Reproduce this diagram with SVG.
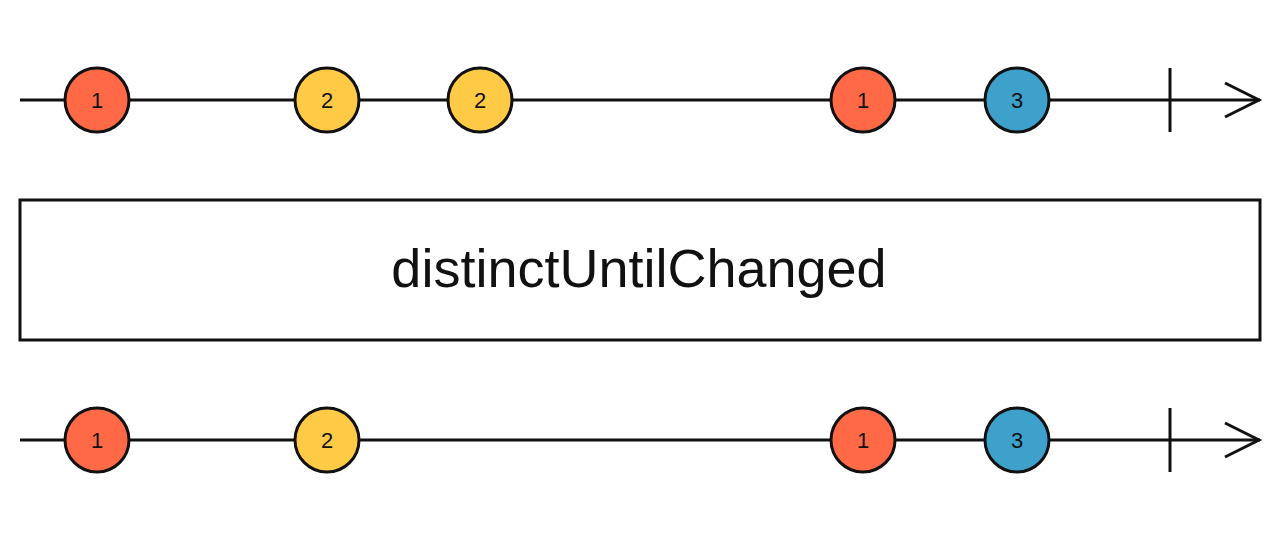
<svg xmlns="http://www.w3.org/2000/svg" width="1280" height="540" viewBox="0 0 1280 540">
<style>
.line{stroke:#111;stroke-width:3;fill:none}
.m{stroke:#111;stroke-width:3}
.r{fill:#FF6946}.y{fill:#FFCB46}.b{fill:#3EA1CB}
.t{font-family:"Liberation Sans",Arial,sans-serif;font-size:22px;fill:#111;text-anchor:middle}
.op{font-family:"Liberation Sans",Arial,sans-serif;font-size:54px;fill:#111;text-anchor:middle}
</style>
<rect width="1280" height="540" fill="#fff"/>
<g id="connectors">
<line class="line" x1="20" y1="100" x2="1260" y2="100"/>
<line class="line" x1="1170" y1="68" x2="1170" y2="132"/>
<polyline class="line" points="1225,83 1259,100 1225,117"/>
<line class="line" x1="20" y1="440" x2="1260" y2="440"/>
<line class="line" x1="1170" y1="408" x2="1170" y2="472"/>
<polyline class="line" points="1225,423 1259,440 1225,457"/>
</g>
<g id="in1"><circle class="m r" cx="97" cy="100" r="32"/><text class="t" x="97" y="108">1</text></g>
<g id="in2"><circle class="m y" cx="327" cy="100" r="32"/><text class="t" x="327" y="108">2</text></g>
<g id="in3"><circle class="m y" cx="480" cy="100" r="32"/><text class="t" x="480" y="108">2</text></g>
<g id="in4"><circle class="m r" cx="863" cy="100" r="32"/><text class="t" x="863" y="108">1</text></g>
<g id="in5"><circle class="m b" cx="1017" cy="100" r="32"/><text class="t" x="1017" y="108">3</text></g>
<g id="operator"><rect x="20" y="200" width="1240" height="140" fill="#fff" stroke="#111" stroke-width="3"/><text class="op" x="639" y="287">distinctUntilChanged</text></g>
<g id="out1"><circle class="m r" cx="97" cy="440" r="32"/><text class="t" x="97" y="448">1</text></g>
<g id="out2"><circle class="m y" cx="327" cy="440" r="32"/><text class="t" x="327" y="448">2</text></g>
<g id="out3"><circle class="m r" cx="863" cy="440" r="32"/><text class="t" x="863" y="448">1</text></g>
<g id="out4"><circle class="m b" cx="1017" cy="440" r="32"/><text class="t" x="1017" y="448">3</text></g>
</svg>
